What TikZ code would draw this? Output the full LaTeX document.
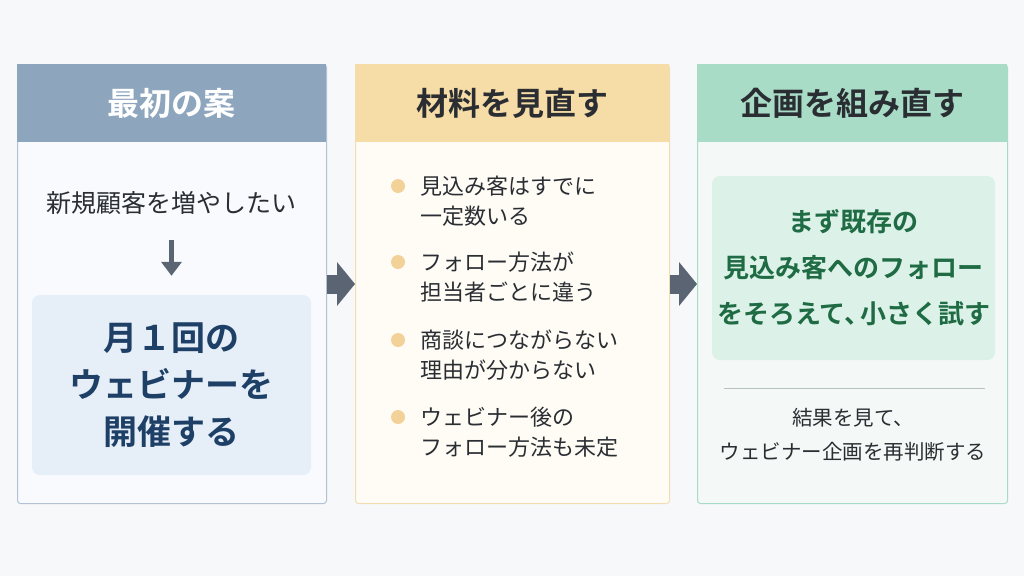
\documentclass[tikz,border=0pt]{standalone}
\usepackage{fontspec}
\setmainfont{Noto Sans CJK JP}[BoldFont={Noto Sans CJK JP Bold}]
\usetikzlibrary{arrows.meta,positioning}

\definecolor{bgc}{HTML}{F6F8FA}
\definecolor{ink}{HTML}{2A2E33}
\definecolor{arrowc}{HTML}{5A6472}
\definecolor{head1}{HTML}{8EA5BE}
\definecolor{line1}{HTML}{B3C2D2}
\definecolor{fill1}{HTML}{F8FAFD}
\definecolor{card1}{HTML}{E6EEF8}
\definecolor{planc}{HTML}{1E3F66}
\definecolor{head2}{HTML}{F6DCA6}
\definecolor{line2}{HTML}{F2DDB0}
\definecolor{fill2}{HTML}{FFFCF6}
\definecolor{dot}{HTML}{F3D29A}
\definecolor{head3}{HTML}{A9DCC7}
\definecolor{line3}{HTML}{A9DCC7}
\definecolor{fill3}{HTML}{F4F9F7}
\definecolor{card3}{HTML}{DCF1E8}
\definecolor{actc}{HTML}{1E6B44}
\definecolor{sepc}{HTML}{B6C2BE}

\begin{document}
\begin{tikzpicture}[x=1pt,y=-1pt,
  panel/.style 2 args={draw=#1,fill=#2,line width=1pt,rounded corners=3pt,anchor=north west,minimum height=439pt},
  head/.style={fill=#1,anchor=north west,minimum height=78pt,inner sep=0pt,font=\fontsize{32}{36}\selectfont\bfseries},
  card/.style={fill=#1,rounded corners=8pt,align=center,inner sep=0pt},
  body/.style={text=ink,font=\fontsize{22}{30}\selectfont},
  bullet/.style={circle,fill=dot,inner sep=0pt,minimum size=14pt},
  bigarrow/.style={line width=19pt,color=arrowc,-{Triangle[length=18pt,width=43pt]}},
  downarrow/.style={line width=5pt,color=arrowc,-{Triangle[length=14pt,width=20pt]}}
]
\fill[bgc] (0,0) rectangle (1024,576);
\useasboundingbox (0,0) rectangle (1024,576);

% first plan
\node[panel={line1}{fill1},minimum width=309pt] (p1) at (17,64) {};
\node[head=head1,minimum width=309pt,text=white] (h1) at (17,64) {最初の案};
\node[body,font=\fontsize{25}{28}\selectfont] (need) at (171.5,203) {新規顧客を増やしたい};
\node[card=card1,minimum width=279pt,minimum height=180pt,text=planc,font=\fontsize{34}{47}\selectfont\bfseries] (plan) at (171.5,385) {月１回の\\ウェビナーを\\開催する};
\draw[downarrow,shorten <=22pt,shorten >=19pt] (need.south) -- (plan.north);

% review the facts
\node[panel={line2}{fill2},minimum width=314pt] (p2) at (355,64) {};
\node[head=head2,minimum width=314pt,text=ink] (h2) at (355,64) {材料を見直す};
\foreach \i/\y/\txt in {1/186/{見込み客はすでに\\一定数いる},2/262/{フォロー方法が\\担当者ごとに違う},3/340/{商談につながらない\\理由が分からない},4/417/{ウェビナー後の\\フォロー方法も未定}}{
  \node[bullet] (b\i) at (398,\y) {};
  \node[body,align=left,anchor=west,inner sep=0pt] (t\i) at (420,\y+15) {\txt};
}

% rebuild the plan
\node[panel={line3}{fill3},minimum width=310pt] (p3) at (697,64) {};
\node[head=head3,minimum width=310pt,text=ink] (h3) at (697,64) {企画を組み直す};
\node[card=card3,minimum width=283pt,minimum height=184pt,text=actc,font=\fontsize{26}{46}\selectfont\bfseries] (act) at (853.5,268) {まず既存の\\見込み客へのフォロー\\をそろえて、\kern-0.4em 小さく試す};
\coordinate (s1) at (724,388);
\coordinate (s2) at (985,388);
\draw[sepc,line width=1pt] (s1) -- (s2);
\node[body,font=\fontsize{20.5}{34}\selectfont,align=center] (note) at (853,435) {結果を見て、\\ウェビナー企画を再判断する};

\draw[bigarrow] (p1.east) -- (p2.west);
\draw[bigarrow] (p2.east) -- (p3.west);
\end{tikzpicture}
\end{document}
